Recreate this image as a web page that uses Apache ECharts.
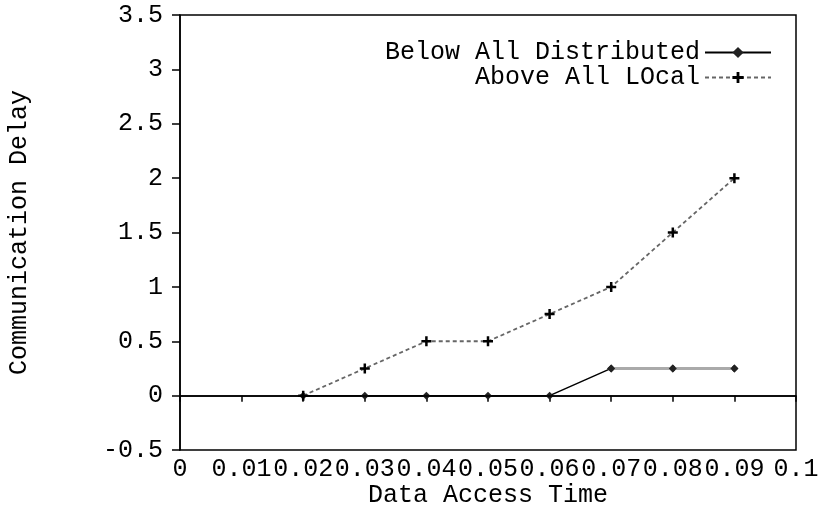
<!DOCTYPE html>
<html>
<head>
<meta charset="utf-8">
<script src="https://cdn.jsdelivr.net/npm/echarts@6/dist/echarts.min.js"></script>
<style>
  html, body { margin: 0; padding: 0; background: #fff; }
  #chart { width: 820px; height: 516px; }
</style>
</head>
<body>
<div id="chart"></div>
<script>
// data
var accessTime = [0.02, 0.03, 0.04, 0.05, 0.06, 0.07, 0.08, 0.09];
var belowDistributed = [0, 0, 0, 0, 0, 0.25, 0.25, 0.25];
var aboveLocal = [0, 0.25, 0.5, 0.5, 0.75, 1.0, 1.5, 2.0];
var seriesNames = ['Below All Distributed', 'Above All LOcal'];

var font = 'Liberation Mono';
var plus = 'path://M3,0H5V3H8V5H5V8H3V5H0V3H3Z';

function pairs(xs, ys) {
  var out = [];
  for (var i = 0; i < xs.length; i++) {
    out.push([xs[i], ys[i]]);
  }
  return out;
}

var below = pairs(accessTime, belowDistributed);
var above = pairs(accessTime, aboveLocal);

var option = {
  animation: false,
  backgroundColor: '#fff',
  grid: {
    left: 180, right: 24, top: 15, bottom: 66,
    outerBoundsMode: 'none',
    containLabel: false,
    show: true, borderColor: '#000', borderWidth: 1.5
  },
  legend: {
    data: seriesNames,
    orient: 'vertical',
    align: 'right',
    right: 43,
    top: 35,
    itemWidth: 66,
    itemHeight: 14,
    itemGap: 0,
    textStyle: { fontFamily: font, fontSize: 25, color: '#000' }
  },
  xAxis: {
    type: 'value',
    min: 0, max: 0.1, interval: 0.01,
    name: 'Data Access Time',
    nameLocation: 'middle',
    nameGap: 33,
    nameMoveOverlap: false,
    nameTextStyle: { fontFamily: font, fontSize: 25, color: '#000' },
    splitLine: { show: false },
    axisLine: { lineStyle: { color: '#000', width: 1.5 } },
    axisTick: { length: 6, lineStyle: { color: '#000', width: 1.5 } },
    axisLabel: { margin: 7, fontFamily: font, fontSize: 25, color: '#000' }
  },
  yAxis: {
    type: 'value',
    min: -0.5, max: 3.5, interval: 0.5,
    name: 'Communication Delay',
    nameLocation: 'middle',
    nameGap: 148,
    nameMoveOverlap: false,
    nameTextStyle: { fontFamily: font, fontSize: 25, color: '#000' },
    splitLine: { show: false },
    axisLine: { show: true, lineStyle: { color: '#000', width: 1.5 } },
    axisTick: { show: true, length: 8, lineStyle: { color: '#000', width: 1.5 } },
    axisLabel: { margin: 17, fontFamily: font, fontSize: 25, color: '#000' }
  },
  series: [
    {
      name: seriesNames[0],
      type: 'line',
      data: below,
      symbol: 'diamond',
      symbolSize: 8,
      itemStyle: { color: '#222' },
      lineStyle: { color: '#000', width: 1.5 },
      z: 3,
      markLine: {
        silent: true,
        symbol: 'none',
        label: { show: false },
        lineStyle: { color: '#000', width: 1.5, type: 'solid' },
        data: [{ yAxis: 0 }]
      }
    },
    {
      // grey, thicker tail of the distributed curve
      type: 'line',
      data: below.slice(5),
      symbol: 'diamond',
      symbolSize: 8,
      itemStyle: { color: '#222' },
      lineStyle: { color: '#aaa', width: 3 },
      z: 4
    },
    {
      name: seriesNames[1],
      type: 'line',
      data: above,
      symbol: plus,
      symbolSize: 10,
      itemStyle: { color: '#000' },
      lineStyle: { color: '#666', width: 1.8, type: [4, 3] },
      z: 5
    }
  ]
};

var myChart = echarts.init(document.getElementById('chart'));
myChart.setOption(option);
</script>
</body>
</html>
